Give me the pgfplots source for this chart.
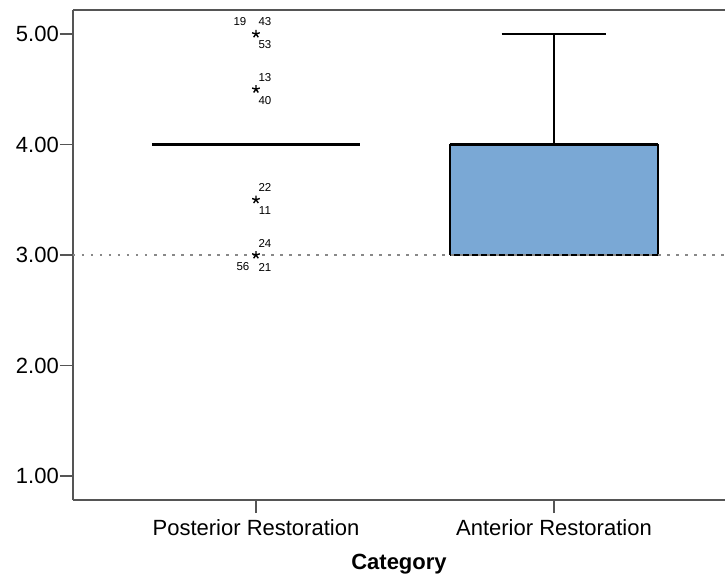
\documentclass[border=0pt]{standalone}
\usepackage{fontspec}
\setmainfont{Liberation Sans}
\usepackage{pgfplots}
\pgfplotsset{compat=1.18}
\definecolor{boxblue}{RGB}{122,168,213}
\definecolor{axgray}{RGB}{85,85,85}
\begin{document}
\begin{tikzpicture}
\begin{axis}[
  scale only axis,
  width=652pt, height=490pt,
  xmin=0.386, xmax=2.574,
  ymin=0.783, ymax=5.217,
  axis x line*=bottom, axis y line*=left,
  axis line style={axgray, line width=1.5pt},
  every tick/.style={axgray, line width=1.2pt},
  tick align=outside,
  major tick length=13pt,
  xtick={1,2},
  xticklabels={Posterior Restoration, Anterior Restoration},
  ytick={1,2,3,4,5},
  /pgf/number format/assume math mode=true,
  yticklabel={\pgfmathprintnumber[fixed,fixed zerofill,precision=2]{\tick}},
  ticklabel style={font=\fontsize{22}{26}\selectfont, text=black},
  yticklabel style={inner sep=1pt},
  xticklabel style={inner sep=2pt, yshift=-4pt},
  xlabel={Category},
  xlabel style={font=\fontsize{22}{26}\selectfont\bfseries, yshift=-13pt},
  clip=false,
]
% Posterior: collapsed box (Q1 = median = Q3 = 4)
\addplot[black, line width=3pt] coordinates {(0.651,4) (1.349,4)};
% Anterior: box Q1=3, Q3=4, median=4, whiskers 3 and 5
\addplot[black, line width=1.3pt] coordinates {(2,4) (2,5)};
\addplot[black, line width=1.3pt] coordinates {(1.824,5) (2.176,5)};
\addplot[draw=black, fill=boxblue, line width=1.3pt] coordinates {(1.651,3) (2.349,3) (2.349,4) (1.651,4) (1.651,3)};
\addplot[black, line width=1.3pt] coordinates {(1.824,3) (2.176,3)};
\addplot[black, line width=3pt] coordinates {(1.651,4) (2.349,4)};
% reference line
\addplot[color={rgb,255:red,136;green,136;blue,136}, line width=2pt, dash pattern=on 2.5pt off 6.5pt] coordinates {(0.386,3) (2.574,3)};
% outliers
\addplot[only marks, mark=star, mark size=4pt, black, line width=1.4pt] coordinates {(1,5) (1,4.5) (1,3.5) (1,3)};
\begin{scope}[every node/.style={font=\fontsize{11.5}{13}\selectfont, inner sep=0pt}]
\node at ([shift={(-16pt,12pt)}]axis cs:1,5) {19};
\node at ([shift={(9pt,12pt)}]axis cs:1,5) {43};
\node at ([shift={(9pt,-11pt)}]axis cs:1,5) {53};
\node at ([shift={(9pt,12pt)}]axis cs:1,4.5) {13};
\node at ([shift={(9pt,-11pt)}]axis cs:1,4.5) {40};
\node at ([shift={(9pt,12pt)}]axis cs:1,3.5) {22};
\node at ([shift={(9pt,-11pt)}]axis cs:1,3.5) {11};
\node at ([shift={(9pt,12pt)}]axis cs:1,3) {24};
\node at ([shift={(-13pt,-12pt)}]axis cs:1,3) {56};
\node at ([shift={(9pt,-12pt)}]axis cs:1,3) {21};
\end{scope}
\draw[axgray, line width=1.5pt] (rel axis cs:0,1) -- (rel axis cs:1,1);
\coordinate (bl) at (rel axis cs:0,0);
\coordinate (tr) at (rel axis cs:1,1);
\end{axis}
\pgfresetboundingbox
\path ([shift={(-73pt,-77pt)}]bl) rectangle ([shift={(0pt,10pt)}]tr);
\end{tikzpicture}
\end{document}
